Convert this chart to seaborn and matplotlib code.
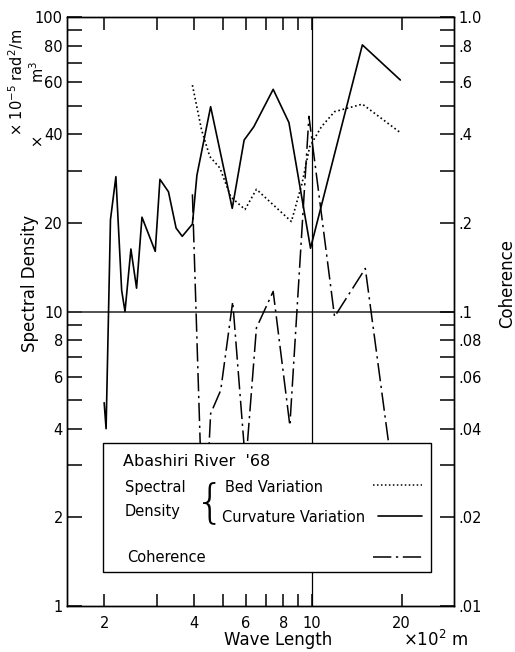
import numpy as np
import pandas as pd
import seaborn as sns
import matplotlib
matplotlib.use("Agg")
import matplotlib.pyplot as plt
from matplotlib.ticker import FixedLocator, FixedFormatter, NullLocator
from matplotlib.patches import Rectangle

# curvature variation spectral density (x 10^-5 rad^2/m)
curv_len = [2.00, 2.03, 2.10, 2.19, 2.29, 2.35, 2.46, 2.57, 2.68, 2.97, 3.08, 3.29, 3.49,
            3.66, 3.96, 4.10, 4.56, 5.39, 5.91, 6.37, 7.40, 8.36, 9.88, 14.76, 19.8]
curv_val = [4.9, 4.0, 20.5, 28.7, 11.8, 10.0, 16.3, 12.0, 20.9, 16.0, 28.1, 25.5, 19.2,
            18.0, 19.8, 29.0, 49.6, 22.4, 38.2, 42.4, 56.8, 43.8, 16.4, 80.4, 61.1]

# bed variation spectral density (x 10^-5 m^3)
bed_len = [3.96, 4.25, 4.53, 4.90, 5.33, 5.95, 6.50, 8.52, 9.25, 9.82, 10.75, 11.9, 14.76, 19.8]
bed_val = [58.7, 41.4, 33.6, 30.7, 24.5, 22.2, 26.0, 20.2, 27.2, 36.3, 42.4, 47.7, 50.6, 40.5]

# coherence
coh_len = [3.96, 4.32, 4.56, 4.93, 5.41, 5.98, 6.50, 7.40, 8.42, 9.76, 11.9, 15.1, 19.8]
coh_val = [0.25, 0.015, 0.045, 0.054, 0.108, 0.030, 0.088, 0.117, 0.041, 0.46, 0.096, 0.14, 0.018]

x_ticks = [2, 3, 4, 5, 6, 7, 8, 9, 10, 20]
x_labels = ["2", "", "4", "", "6", "", "8", "", "10", "20"]
y_ticks = [1, 2, 3, 4, 5, 6, 7, 8, 9, 10, 20, 30, 40, 50, 60, 70, 80, 90, 100]
y_labels = ["1", "2", "", "4", "", "6", "", "8", "", "10", "20", "", "40", "", "60", "", "80", "", "100"]
c_ticks = [t / 100 for t in y_ticks]
c_labels = [".01", ".02", "", ".04", "", ".06", "", ".08", "", ".1", ".2", "", ".4", "", ".6", "", ".8", "", "1.0"]

sns.set_style("ticks")
plt.rcParams["font.family"] = ["DejaVu Sans"]
plt.rcParams["axes.linewidth"] = 1.0
plt.rcParams["axes.edgecolor"] = "black"
plt.rcParams["xtick.color"] = "black"
plt.rcParams["ytick.color"] = "black"
plt.rcParams["text.color"] = "black"

curv_df = pd.DataFrame({"len": curv_len, "val": curv_val})
bed_df = pd.DataFrame({"len": bed_len, "val": bed_val})
coh_df = pd.DataFrame({"len": coh_len, "val": coh_val})

fig = plt.figure(figsize=(5.15, 6.52), dpi=100)
ax = fig.add_axes([67 / 515, 1 - 606 / 652, 387 / 515, 589 / 652])
ax2 = ax.twinx()

sns.lineplot(data=curv_df, x="len", y="val", ax=ax, color="black", lw=1.2, sort=False)
sns.lineplot(data=bed_df, x="len", y="val", ax=ax, color="black", lw=1.2,
             linestyle=(0, (1, 1.6)), sort=False)
sns.lineplot(data=coh_df, x="len", y="val", ax=ax2, color="black", lw=1.1,
             linestyle=(0, (12, 3, 1.5, 3)), sort=False)

ax.axhline(10, color="#333333", lw=1.2, zorder=1)
ax.axvline(10, color="black", lw=0.9, zorder=1)

for a in (ax, ax2):
    a.set_xscale("log")
    a.set_yscale("log")
    a.set_xlim(1.5, 30)
    a.set_xlabel("")
    a.set_ylabel("")
ax.set_ylim(1, 100)
ax2.set_ylim(0.01, 1)

ax.xaxis.set_major_locator(FixedLocator(x_ticks))
ax.xaxis.set_major_formatter(FixedFormatter(x_labels))
ax.xaxis.set_minor_locator(NullLocator())
ax.yaxis.set_major_locator(FixedLocator(y_ticks))
ax.yaxis.set_major_formatter(FixedFormatter(y_labels))
ax.yaxis.set_minor_locator(NullLocator())
ax2.yaxis.set_major_locator(FixedLocator(c_ticks))
ax2.yaxis.set_major_formatter(FixedFormatter(c_labels))
ax2.yaxis.set_minor_locator(NullLocator())
ax2.xaxis.set_minor_locator(NullLocator())

ax.tick_params(axis="x", which="both", direction="in", top=True, length=9, width=1.1,
               labelsize=10.5, pad=7)
ax.tick_params(axis="y", which="both", direction="in", right=False, length=11, width=1.1,
               labelsize=10.5, pad=3)
ax2.tick_params(axis="y", which="both", direction="in", length=10, width=1.1,
                labelsize=10.5, pad=3)
ax2.tick_params(axis="x", which="both", bottom=False, top=False, labelbottom=False)

# legend box
ax2.add_patch(Rectangle((0.093, 0.057), 0.847, 0.220, transform=ax2.transAxes,
                        facecolor="white", edgecolor="black", lw=1.0, zorder=10))
fs = 10.5
ax2.text(0.145, 0.245, "Abashiri River  '68", transform=ax2.transAxes, fontsize=11.5,
         va="center", ha="left", zorder=11)
ax2.text(0.150, 0.202, "Spectral", transform=ax2.transAxes, fontsize=fs, va="center", zorder=11)
ax2.text(0.150, 0.160, "Density", transform=ax2.transAxes, fontsize=fs, va="center", zorder=11)
ax2.text(0.370, 0.175, "{", transform=ax2.transAxes, fontsize=34, va="center", ha="center",
         fontweight="light", zorder=11)
ax2.text(0.408, 0.202, "Bed Variation", transform=ax2.transAxes, fontsize=fs, va="center", zorder=11)
ax2.text(0.401, 0.150, "Curvature Variation", transform=ax2.transAxes, fontsize=fs,
         va="center", zorder=11)
ax2.text(0.155, 0.082, "Coherence", transform=ax2.transAxes, fontsize=fs, va="center", zorder=11)
ax2.plot([0.791, 0.917], [0.205, 0.205], transform=ax2.transAxes, color="black", lw=1.1,
         linestyle=(0, (1, 1.6)), zorder=11)
ax2.plot([0.804, 0.917], [0.152, 0.152], transform=ax2.transAxes, color="black", lw=1.2, zorder=11)
ax2.plot([0.791, 0.917], [0.084, 0.084], transform=ax2.transAxes, color="black", lw=1.1,
         linestyle=(0, (12, 3, 1.5, 3)), zorder=11)

# axis labels
fig.text(30 / 515, 1 - 283 / 652, "Spectral Density", rotation=90, ha="center", va="center",
         fontsize=12)
fig.text(16 / 515, 1 - 82 / 652, r"$\times$ 10$^{-5}$ rad$^2$/m", rotation=90, ha="center",
         va="center", fontsize=10.5)
fig.text(38 / 515, 1 - 142 / 652, r"$\times$", rotation=90, ha="center", va="center", fontsize=10.5)
fig.text(38 / 515, 1 - 72 / 652, r"m$^3$", rotation=90, ha="center", va="center", fontsize=10.5)
fig.text(507 / 515, 1 - 283 / 652, "Coherence", rotation=90, ha="center", va="center",
         fontsize=12)
fig.text(278 / 515, 1 - 640 / 652, "Wave Length", ha="center", va="center", fontsize=12)
fig.text(436 / 515, 1 - 640 / 652, r"$\times$10$^2$ m", ha="center", va="center", fontsize=12)

fig.savefig("out.png", dpi=100)
